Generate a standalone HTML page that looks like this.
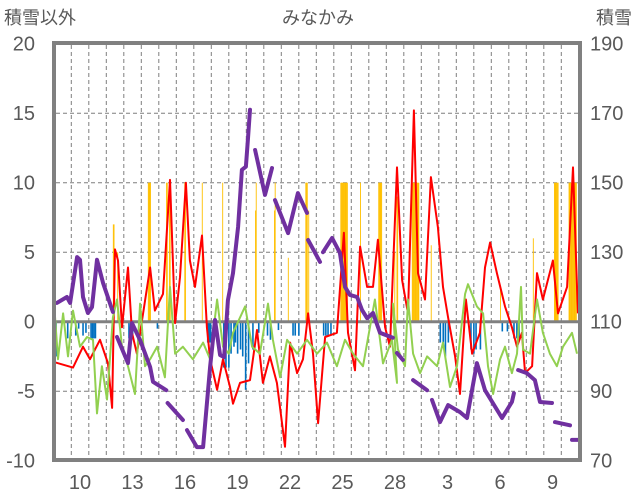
<!DOCTYPE html>
<html><head><meta charset="utf-8">
<style>
html,body{margin:0;padding:0;background:#fff;}
svg{display:block;font-family:"Liberation Sans","Noto Sans CJK JP",sans-serif;}
</style></head>
<body>
<svg id="chart" width="636" height="501" viewBox="0 0 636 501">
<defs><clipPath id="plotclip"><rect x="56" y="45" width="522" height="413"/></clipPath></defs>
<text x="4" y="24" font-size="18" fill="#595959">積雪以外</text>
<text x="318" y="24" font-size="18" fill="#595959" text-anchor="middle">みなかみ</text>
<text x="632" y="24" font-size="18" fill="#595959" text-anchor="end">積雪</text>
<g id="grid"></g>
<g id="ticks"></g>
<g clip-path="url(#plotclip)">
<g id="snowfall"></g>
<g id="negbars"></g>
<line x1="54" x2="580" y1="321.7" y2="321.7" stroke="#808080" stroke-width="3"/>
<g id="lines"></g>
</g>
<rect x="54" y="43" width="526" height="417" fill="none" stroke="#808080" stroke-width="4"/>
</svg>
<script>
// ---- data ----
const leftTicks = [20, 15, 10, 5, 0, -5, -10];
const rightTicks = [190, 170, 150, 130, 110, 90, 70];
const dayLabels = ["10","13","16","19","22","25","28","3","6","9"];
const dayLabelOffsets = [1, 4, 7, 10, 13, 16, 19, 22, 25, 28];
const dayCount = 30;

const redTimes = [0,1.10,1.67,2.07,2.64,3.10,3.33,3.50,3.67,3.90,4.24,4.47,4.75,5.10,5.50,5.78,6.24,6.64,6.93,7.21,7.55,7.78,8.07,8.47,8.75,8.93,9.33,9.67,10.07,10.24,10.64,11.21,11.61,11.95,12.35,12.75,13.21,13.50,13.90,14.24,14.53,14.81,15.10,15.50,16.18,16.58,16.81,17.21,17.50,17.90,18.24,18.52,18.93,19.21,19.61,19.90,20.24,20.58,20.81,21.21,21.55,21.95,22.24,22.53,22.93,23.21,23.55,23.90,24.35,24.64,24.93,25.32,25.78,26.18,26.47,26.75,26.93,27.33,27.61,27.95,28.52,28.81,29.33,29.67,29.95];
const redValues = [-2.9,-3.3,-1.8,-2.7,-1.3,-3,-6.2,5.2,4.4,-0.4,3.9,-0.8,-2.3,0.6,3.9,0.8,2,10.2,-0.1,3.2,10,4.4,2.5,6.2,-0.4,-2.7,-4.9,-2.7,-4.7,-5.9,-4.4,-4.2,-0.6,-4.4,-2.5,-4.4,-9,-1.5,-3.7,-2.7,0.6,-2.3,-7.3,-1.1,-0.8,6.4,-0.8,-3.5,5.4,2.5,2.5,5.9,-0.4,-1.8,11.1,3,0.6,15.2,3.5,1.6,10.4,6.8,2.5,0.3,-2.5,-5.2,1.6,-2.3,-0.8,3.9,5.7,3.5,1.1,-0.4,-1.8,-0.8,-3.7,-3.2,3.5,1.6,4.4,0.6,2.5,11.1,0.6];

const greenTimes = [0,0.24,0.53,0.81,1.10,1.50,1.90,2.24,2.47,2.75,3.04,3.38,3.61,3.90,4.24,4.64,4.93,5.21,5.50,5.90,6.35,6.64,6.93,7.38,7.95,8.53,8.93,9.33,9.67,10.0,10.24,10.93,11.33,11.78,12.24,12.52,12.93,13.33,13.90,14.47,15.04,15.61,16.18,16.64,17.10,17.67,18.35,18.81,19.32,19.61,19.38,19.67,20.07,20.24,20.53,20.93,21.33,21.90,22.24,22.64,23.04,23.50,23.67,24.18,24.53,24.81,25.10,25.50,25.78,26.18,26.47,26.70,26.81,27.21,27.61,27.95,28.35,28.75,29.10,29.61,29.90];
const greenValues = [1.6,-2.7,0.6,-2.5,0.8,-1.8,-1.1,-1.3,-6.6,-3.2,-5.6,0.3,1.6,-1.8,-3.2,-5.2,1.3,-3.2,-2.7,-1.8,-4,2.5,-2.3,-1.8,-2.7,-1.5,-2.7,1.6,-1.8,-2.3,-0.8,1.1,-1.8,-2.3,1.3,-1.3,-4,-1.3,-2.3,-1.3,-2.3,-1.5,-3.2,-1.3,-2.3,-3.2,1.6,-3,-1.3,-4.4,1.3,-2,-3.2,1.6,-2.3,-3.7,-2.5,-3.2,-1.5,-4.7,-3.2,2,2.7,1.1,0.6,-3.2,-5.2,-2.7,-1.8,-3.7,-2.3,2.5,-2,-2.3,1.6,-0.8,-2.3,-3.2,-1.8,-0.8,-2.3];

// snow depth (cm, right axis); null = gap
const depthTimes = [0.18,0.75,0.93,1.33,1.5,1.67,1.95,2.18,2.47,2.81,3.38,3.5,3.61,4.24,4.47,4.93,5.50,5.67,6.43,6.46,6.5,7.38,7.5,7.61,8.18,8.53,8.93,9.21,9.5,9.73,9.95,10.24,10.53,10.75,10.98,11.1,11.21,11.35,11.5,12.07,12.47,12.55,12.64,13.39,13.95,14.47,14.5,14.53,15.21,15.3,15.38,15.9,16.35,16.64,16.92,17.33,17.61,17.9,18.24,18.64,19.38,19.5,19.61,19.95,20.2,20.53,21.33,21.5,21.61,22.07,22.53,23.21,23.61,24.18,24.64,25.61,26.18,26.29,26.4,26.53,27.03,27.49,27.78,28.47,28.55,28.64,29.5,29.55,29.61,29.95];
const depthValues = [115.4,117.1,115.4,128.6,127.8,117.1,112.5,114.2,127.8,121.2,112.8,null,105.6,98.1,109.6,104.7,97,92.7,90.3,null,86.6,81.7,null,78.8,73.9,73.9,97,110.5,100.4,99.8,116.2,124,137.3,153.7,154.6,163.2,171,null,159.4,146.5,154.2,null,145,135.5,147,141.3,null,133.5,127.2,null,130,134.1,129.8,120,117.7,117.1,113.4,111,112.5,106.8,105.4,null,101,99,null,93.2,90.3,null,87.5,81.1,86,84,82.3,98.1,90.3,82.3,86.9,89.4,null,96.1,95.2,93.2,86.9,86.6,null,81.1,80.2,null,76,76];

// snowfall (hour index from start, value on left axis)
const snowHours = [81,82,87,129,130,131,132,154,155,158,159,179,180,203,231,276,277,302,303,321,345,346,347,349,393,394,395,396,397,398,399,400,401,402,420,445,446,447,448,449,467,470,471,491,492,493,494,495,496,497,498,499,500,517,612,657,686,687,688,689,690,691,706,707,708,709,710,711,712,713,714,715,716];
const snowValues = [7,7,5,10,10,10,10,10,10,10,10,10,10,10,10,8,10,8,10,4.6,10,10,10,8,10,10,10,10,10,10,10,10,10,10,10,10,10,10,10,10,5,9,9,10,10,10,10,10,10,10,10,10,10,5.5,2.5,6,10,10,10,10,10,10,10,10,10,10,10,10,10,10,10,10,10];

const negHours = [0,1,2,18,29,33,39,43,50,52,54,56,102,105,107,141,210,212,214,232,235,239,242,246,248,251,255,258,262,266,272,280,292,296,307,327,330,335,369,372,375,379,529,533,536,540,571,575,578,584,614,621,630,634,637];
const negValues = [-2.5,-2.5,-2.5,-1.2,-1,-0.5,-1,-0.8,-1.2,-1.2,-1.2,-1.2,-1.2,-1.2,-1.2,-0.5,-1.5,-1.5,-1.5,-3.3,-3.3,-3.3,-2.3,-1.8,-1.5,-2.3,-2,-2.5,-4.9,-3,-2,-0.8,-1,-1.3,-0.6,-1,-1,-1,-1,-1,-1,-1,-1.5,-1.5,-2.5,-1.5,-2,-2.3,-2,-2,-0.7,-0.7,-1.2,-1.2,-1.2];

// ---- axes ----
const X0 = 53.8, DAYW = 17.5;
const xDay = t => X0 + t * DAYW;
const xHour = h => X0 + h / 24 * DAYW;
const yL = v => 321.7 - v * 13.9;
const yR = s => yL((s - 110) / 4);
const NS = "http://www.w3.org/2000/svg";
function mk(tag, attrs, parent) {
  const e = document.createElementNS(NS, tag);
  for (const k in attrs) e.setAttribute(k, attrs[k]);
  parent.appendChild(e);
  return e;
}
const grid = document.getElementById('grid');
const ticks = document.getElementById('ticks');
leftTicks.forEach(v => {
  if (v !== 20 && v !== 0 && v !== -10) {
    const l = mk('line', {x1: 56, x2: 578, y1: yL(v), y2: yL(v), stroke: '#7f7f7f', 'stroke-width': 1, 'stroke-dasharray': '4,3'}, grid);
    
    
  }
  const t = mk('text', {x: 35, y: yL(v) + 7, 'font-size': 20, fill: '#595959', 'text-anchor': 'end'}, ticks);
  t.textContent = v;
  
  
});
rightTicks.forEach(s => {
  const t = mk('text', {x: 590, y: yR(s) + 7, 'font-size': 20, fill: '#595959'}, ticks);
  t.textContent = s;
  
  
});
for (let d = 1; d < dayCount; d++) {
  const l = mk('line', {x1: xDay(d), x2: xDay(d), y1: 45, y2: 458, stroke: '#7f7f7f', 'stroke-width': 1, 'stroke-dasharray': '4,3'}, grid);
  
  
}
dayLabels.forEach((lab, i) => {
  const t = mk('text', {x: xDay(dayLabelOffsets[i] + 0.5), y: 489, 'font-size': 20, fill: '#595959', 'text-anchor': 'middle'}, ticks);
  t.textContent = lab;
  
  
});
// bars
const sf = document.getElementById('snowfall');
snowHours.forEach((h, i) => {
  const y = yL(snowValues[i]);
  const r = mk('rect', {x: xHour(h), y: y, width: 0.9, height: yL(0) - y, fill: '#FFC000'}, sf);
  
  
});
const nb = document.getElementById('negbars');
negHours.forEach((h, i) => {
  const r = mk('rect', {x: xHour(h), y: yL(0), width: 1.6, height: yL(negValues[i]) - yL(0), fill: '#0070C0'}, nb);
  
  
});
// lines
const lines = document.getElementById('lines');
function pathFor(ts, vs, yf) {
  let d = '', pen = false;
  ts.forEach((t, i) => {
    const v = vs[i];
    if (v === null) { pen = false; return; }
    d += (pen ? 'L' : 'M') + xDay(t).toFixed(1) + ',' + yf(v).toFixed(1);
    pen = true;
  });
  return d;
}
const red = mk('path', {d: pathFor(redTimes, redValues, yL), fill: 'none', stroke: '#FF0000', 'stroke-width': 2, 'stroke-linejoin': 'round'}, lines);


const green = mk('path', {d: pathFor(greenTimes, greenValues, yL), fill: 'none', stroke: '#92D050', 'stroke-width': 2, 'stroke-linejoin': 'round'}, lines);


const purple = mk('path', {d: pathFor(depthTimes, depthValues, yR), fill: 'none', stroke: '#7030A0', 'stroke-width': 4, 'stroke-linejoin': 'round', 'stroke-linecap': 'round'}, lines);


</script>
</body></html>
